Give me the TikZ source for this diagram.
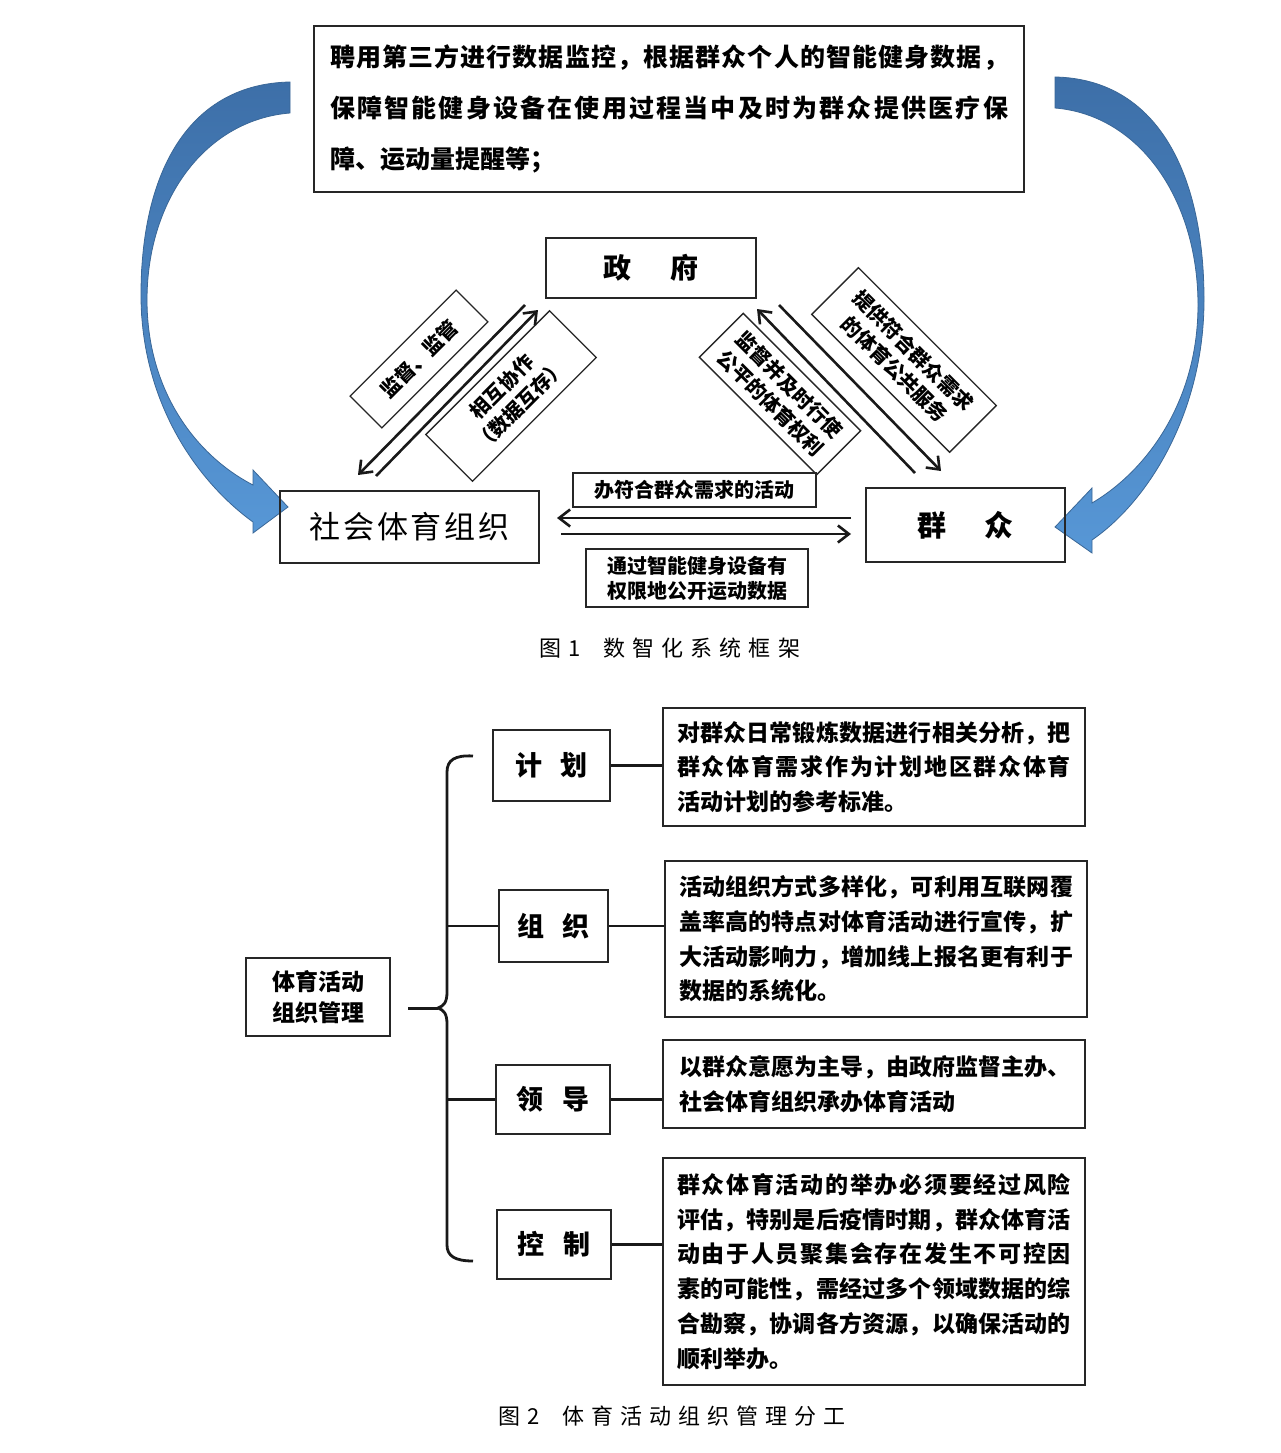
\documentclass[tikz,border=0pt]{standalone}
\usepackage{fontspec}
\setmainfont{Noto Sans CJK SC}
\usetikzlibrary{arrows.meta,calc}
\def\spreadchars#1{\ifx\relax#1\else#1\hfil\expandafter\spreadchars\fi}
\newcommand\jl[2]{\hbox to #1{\spreadchars#2\relax\unskip}}
\newcommand\fs[2]{\fontsize{#1}{#2}\selectfont}
\definecolor{bluetop}{HTML}{3D6FA8}
\definecolor{bluebot}{HTML}{5797D6}
\definecolor{blueedge}{HTML}{3A6797}
\begin{document}
\begin{tikzpicture}[x=1pt,y=-1pt,
  bx/.style={draw=black!85,line width=1.3pt,inner sep=0pt},
  ln/.style={draw=black!90,line width=2.6pt},
  arr/.style={draw=black!90,line width=2.6pt,-{Straight Barb[length=11pt,width=17pt]}},
  lab/.style={bx,font=\fs{20}{26}\bfseries,align=center},
  blue/.style={top color=bluetop,bottom color=bluebot,draw=blueedge,line width=0.8pt,line join=miter}]
\useasboundingbox[fill=white] (0,0) rectangle (1281,1453);

% ---------- Figure 1 ----------
\node[bx,minimum width=710,minimum height=166,align=left,font=\fs{25}{51}\bfseries] (top) at (669,109)
 {\jl{678pt}{聘用第三方进行数据监控，根据群众个人的智能健身数据，}\\
  \jl{678pt}{保障智能健身设备在使用过程当中及时为群众提供医疗保}\\
  障、运动量提醒等；};

% blue curved arrows
\path[blue] (290,82) .. controls (190,84) and (141,170) .. (141,295)
  .. controls (141,400) and (195,480) .. (253,522)
  -- (253,533) -- (288,507) -- (253,470) -- (253,485)
  .. controls (195,455) and (147,390) .. (147,300)
  .. controls (147,200) and (205,120) .. (290,113) -- cycle;
\path[blue] (1055,77) .. controls (1155,79) and (1204,170) .. (1204,300)
  .. controls (1204,410) and (1150,500) .. (1092,540)
  -- (1092,553) -- (1055,527) -- (1092,488) -- (1092,503)
  .. controls (1148,470) and (1198,400) .. (1198,305)
  .. controls (1198,200) and (1140,115) .. (1055,108) -- cycle;

\node[bx,minimum width=210,minimum height=60,font=\fs{28}{34}\bfseries] (zf) at (651,268) {政\hspace{40pt}府};
\node[bx,minimum width=259,minimum height=72,font=\fs{31}{36}] (sh) at (409.5,527) {\jl{200pt}{社会体育组织}};
\node[bx,minimum width=199,minimum height=74,font=\fs{29}{34}\bfseries] (qz) at (965.5,525) {群\hspace{38pt}众};

\node[lab,minimum width=243,minimum height=34] (l1) at (694.5,490) {办符合群众需求的活动};
\node[lab,minimum width=222,minimum height=58,font=\fs{20}{25}\bfseries] (l2) at (697,578) {通过智能健身设备有\\权限地公开运动数据};

\node[lab,rotate=45,minimum width=150,minimum height=45] (r1) at (419,359) {监督、监管};
\node[lab,rotate=45,minimum width=175,minimum height=66] (r2) at (511,396) {相互协作\\（数据互存）};
\node[lab,rotate=-45,minimum width=166,minimum height=62] (r3) at (780,394) {监督并及时行使\\公平的体育权利};
\node[lab,rotate=-45,minimum width=195,minimum height=66] (r4) at (904,360) {提供符合群众需求\\的体育公共服务};

\coordinate (a1s) at (525,305); \coordinate (a1e) at (358,475);
\coordinate (b1s) at (376,476); \coordinate (b1e) at (538,310);
\coordinate (c1s) at (779,305); \coordinate (c1e) at (941,471);
\coordinate (d1s) at (915,473); \coordinate (d1e) at (757,309);
\coordinate (h1s) at (851,518); \coordinate (h1e) at (557,518);
\coordinate (h2s) at (561,534); \coordinate (h2e) at (851,534);
\draw[arr] (a1s) -- (a1e);
\draw[arr] (b1s) -- (b1e);
\draw[arr] (c1s) -- (c1e);
\draw[arr] (d1s) -- (d1e);
\draw[arr] (h1s) -- (h1e);
\draw[arr] (h2s) -- (h2e);

\node[font=\fs{22}{26}] (cap1) at (670,648) {图\hspace{7pt}1\hspace{22pt}\jl{197pt}{数智化系统框架}};

% ---------- Figure 2 ----------
\node[bx,minimum width=144,minimum height=78,align=center,font=\fs{23}{31}\bfseries] (mgmt) at (318,997) {体育活动\\组织管理};
\begin{scope}[every node/.style={bx,font=\fs{27}{32}\bfseries}]
\node[minimum width=117,minimum height=71] (jh) at (551.5,765.5) {计\hspace{19pt}划};
\node[minimum width=109,minimum height=72] (zz) at (553.5,926) {组\hspace{19pt}织};
\node[minimum width=114,minimum height=69] (ld) at (553,1099.5) {领\hspace{19pt}导};
\node[minimum width=114,minimum height=69] (kz) at (554,1244.5) {控\hspace{19pt}制};
\end{scope}

\begin{scope}[every node/.style={bx,align=left,font=\fs{23}{34.7}\bfseries}]
\node[minimum width=422,minimum height=118] (d1) at (874,767)
 {\jl{394pt}{对群众日常锻炼数据进行相关分析，把}\\
  \jl{394pt}{群众体育需求作为计划地区群众体育}\\
  活动计划的参考标准。};
\node[minimum width=422,minimum height=156] (d2) at (876,939)
 {\jl{394pt}{活动组织方式多样化，可利用互联网覆}\\
  \jl{394pt}{盖率高的特点对体育活动进行宣传，扩}\\
  \jl{394pt}{大活动影响力，增加线上报名更有利于}\\
  数据的系统化。};
\node[minimum width=422,minimum height=88] (d3) at (874,1084)
 {\jl{390pt}{以群众意愿为主导，由政府监督主办、}\\
  社会体育组织承办体育活动};
\node[minimum width=422,minimum height=227] (d4) at (874,1271.5)
 {\jl{394pt}{群众体育活动的举办必须要经过风险}\\
  \jl{394pt}{评估，特别是后疫情时期，群众体育活}\\
  \jl{394pt}{动由于人员聚集会存在发生不可控因}\\
  \jl{394pt}{素的可能性，需经过多个领域数据的综}\\
  \jl{394pt}{合勘察，协调各方资源，以确保活动的}\\
  顺利举办。};
\end{scope}

% brace
\draw[ln,line width=2.8pt] (473,756) .. controls (455,755) and (447,760) .. (447,772)
  -- (447,992) .. controls (447,1002) and (444,1006) .. (438,1008)
  .. controls (444,1010) and (447,1014) .. (447,1024)
  -- (447,1245) .. controls (447,1256) and (455,1261) .. (473,1261);
\coordinate (stubl) at (408,1008);
\coordinate (cusp) at (438,1008);
\draw[ln,line width=3pt] (stubl) -- (cusp);
\coordinate (bxl) at (447,0);
\draw[ln] (zz.west -| bxl) -- (zz.west);
\draw[ln] (ld.west -| bxl) -- (ld.west);

\draw[ln] (jh.east) -- (jh.east -| d1.west);
\draw[ln] (zz.east) -- (zz.east -| d2.west);
\draw[ln] (ld.east) -- (ld.east -| d3.west);
\draw[ln] (kz.east) -- (kz.east -| d4.west);

\node[font=\fs{22}{26}] (cap2) at (672,1416) {图\hspace{7pt}2\hspace{22pt}\jl{283pt}{体育活动组织管理分工}};
\end{tikzpicture}
\end{document}
